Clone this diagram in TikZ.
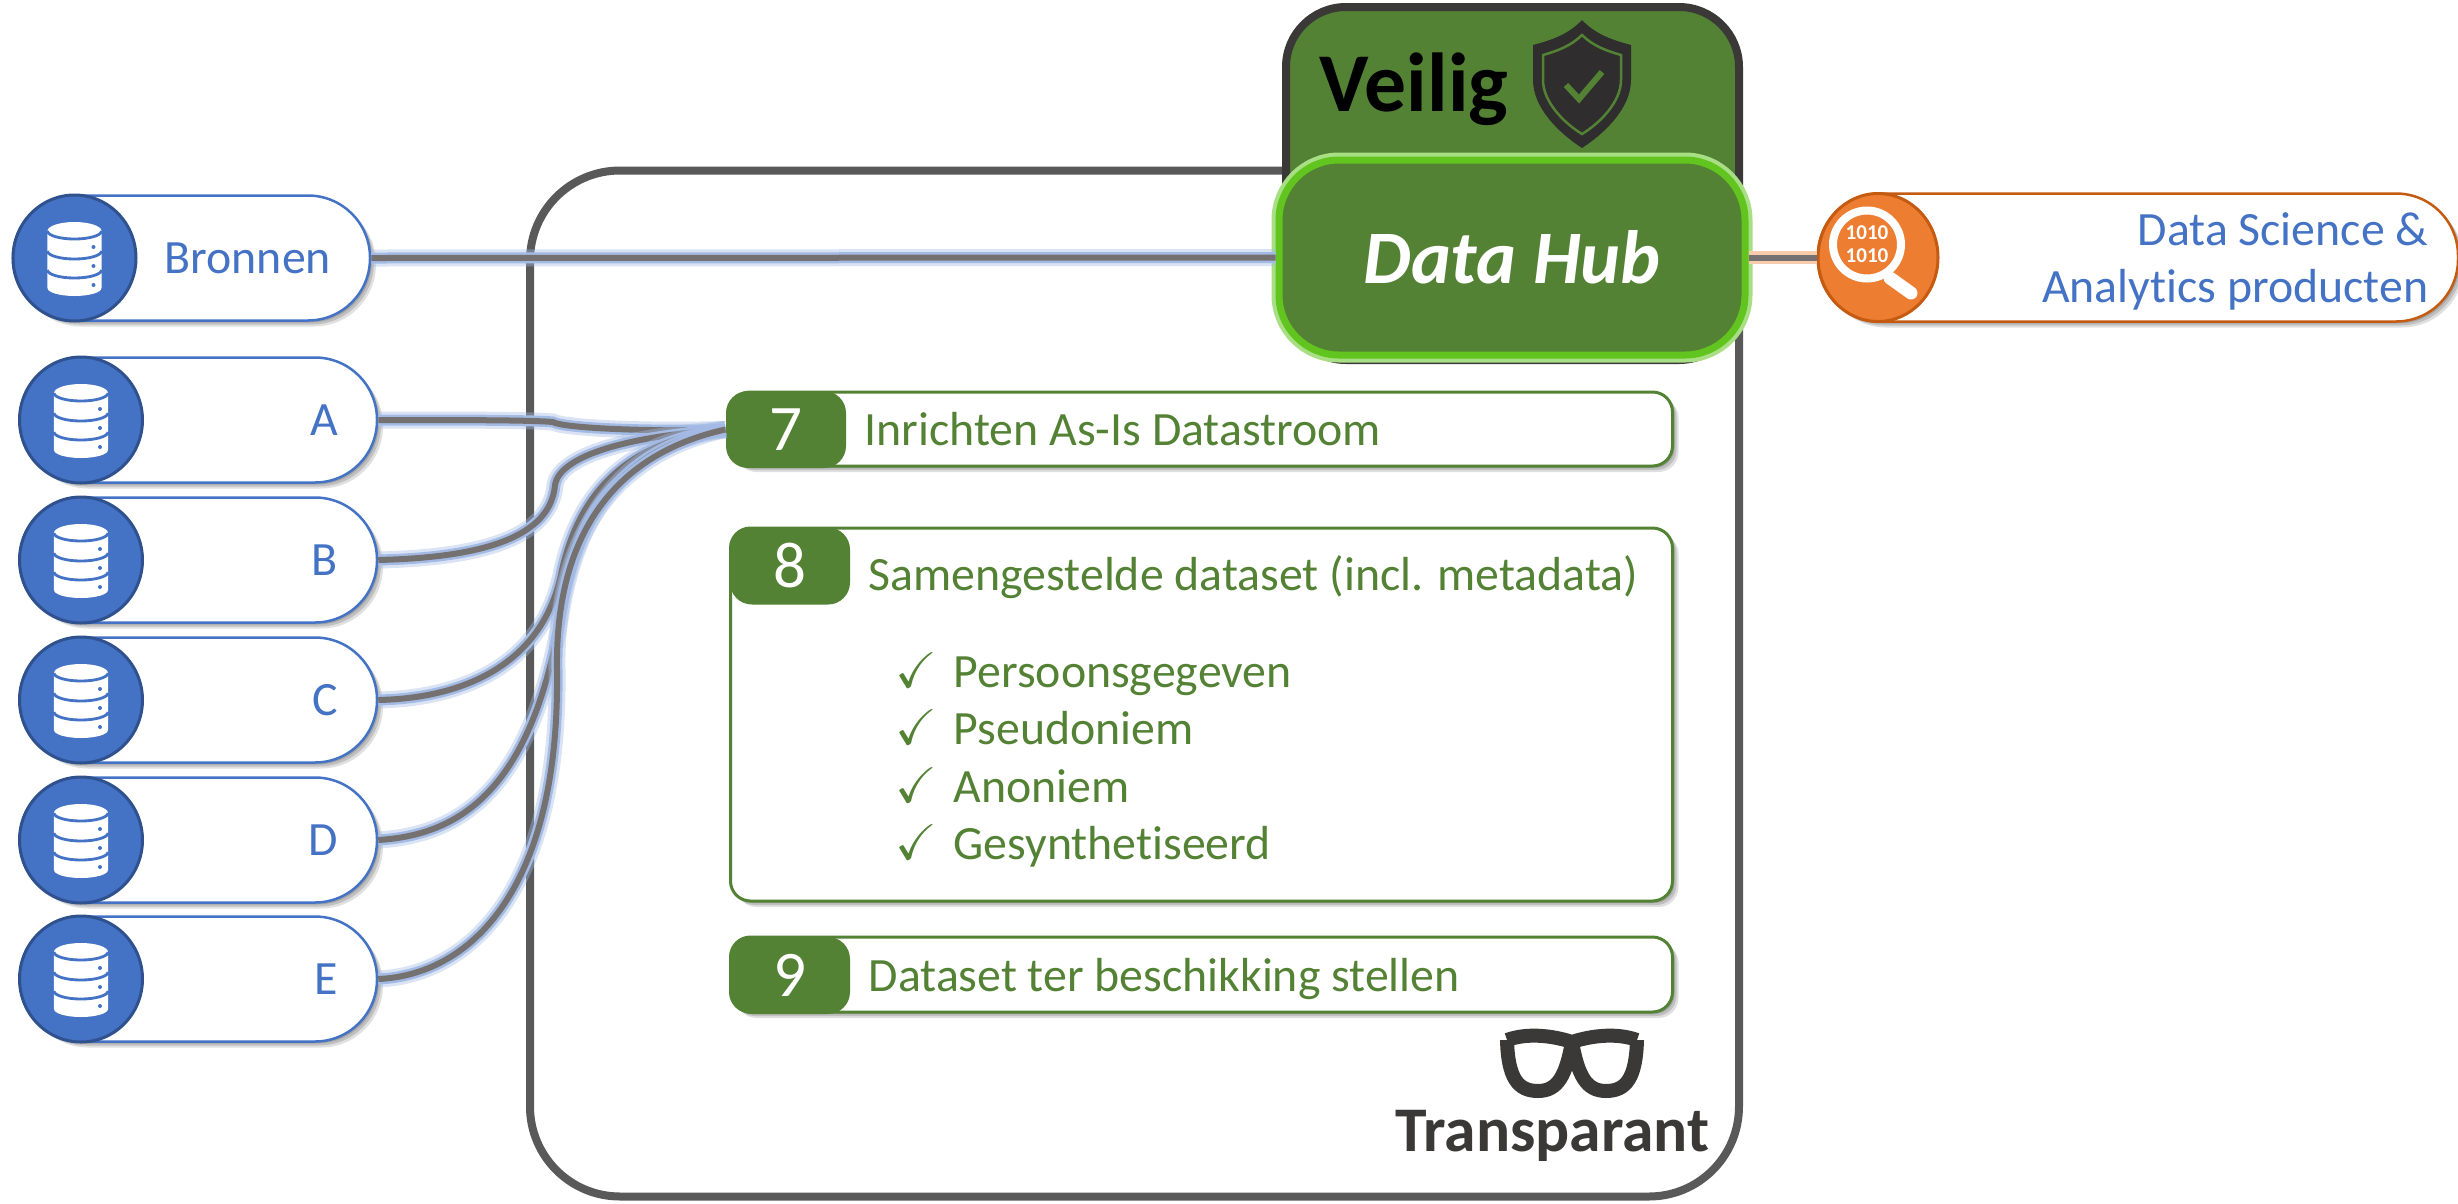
\documentclass[tikz,border=0pt]{standalone}
\usepackage{fontspec}
\usepackage{amssymb}
\setmainfont[Ligatures=CommonOff]{Carlito}
\usetikzlibrary{shapes.geometric}
\usetikzlibrary{shadows}
\definecolor{hubgreen}{HTML}{548235}
\definecolor{hubglow}{HTML}{62C41F}
\definecolor{srcblue}{HTML}{4472C4}
\definecolor{srcdark}{HTML}{2F528F}
\definecolor{srcglow}{HTML}{A3BBE4}
\definecolor{prodorange}{HTML}{ED7D31}
\definecolor{proddark}{HTML}{C55A11}
\definecolor{prodglow}{HTML}{F8CBAD}
\definecolor{tracegray}{HTML}{767171}
\definecolor{framegray}{HTML}{595959}
\definecolor{inkgray}{HTML}{3B3838}
\newcommand{\listcheck}{\makebox[16.5pt][l]{\scalebox{1.05}{$\checkmark$}}}
\tikzset{
  softshadow/.style={
    drop shadow={shadow xshift=.02cm, shadow yshift=-.02cm, opacity=.14, fill=black},
    drop shadow={shadow xshift=.04cm, shadow yshift=-.04cm, opacity=.14, fill=black},
    drop shadow={shadow xshift=.06cm, shadow yshift=-.06cm, opacity=.12, fill=black}},
  bodyfont/.style={font=\fontsize{13.6}{16.2}\selectfont},
  pillbox/.style={draw=srcblue, fill=white, line width=.025cm, rounded corners=.62cm, bodyfont, text=srcblue, align=right, inner xsep=.39cm, inner ysep=0, minimum height=1.25cm},
  srcpill/.style={pillbox, text width=2.79cm, text height=.40cm, text depth=.09cm, softshadow},
  srcdisc/.style={ellipse, draw=srcdark, fill=srcblue, line width=.03cm, inner sep=0, minimum width=1.23cm, minimum height=1.26cm},
  stepbox/.style={draw=hubgreen, fill=white, line width=.03cm, rounded corners=.2cm, minimum width=9.42cm, softshadow},
  steptab/.style={fill=hubgreen, text=white, rounded corners=.22cm, minimum width=1.2cm, minimum height=.77cm, inner sep=0, font=\fontsize{18.5}{20}\selectfont},
  steptext/.style={bodyfont, text=hubgreen, anchor=base west, inner sep=0},
  hubbox/.style={fill=hubgreen, rounded corners=.6cm, inner sep=0},
  srclink/.style={draw=tracegray, line width=.06cm, preaction={draw=srcglow, line width=.17cm, opacity=.4}, preaction={draw=srcglow, line width=.11cm}},
  prodlink/.style={draw=tracegray, line width=.06cm, preaction={draw=prodglow, line width=.13cm}},
  dbicon/.pic={
    \fill[white] (-.27,.27) -- (-.27,-.30) arc[start angle=180, end angle=360, x radius=.27, y radius=.08] -- (.27,.27) arc[start angle=0, end angle=180, x radius=.27, y radius=.09] -- cycle;
    \draw[srcblue, line width=.028cm] (-.27,.27) arc[start angle=180, end angle=360, x radius=.27, y radius=.08];
    \draw[srcblue, line width=.028cm] (-.27,.07) arc[start angle=180, end angle=360, x radius=.27, y radius=.08];
    \draw[srcblue, line width=.028cm] (-.27,-.12) arc[start angle=180, end angle=360, x radius=.27, y radius=.08];
    \fill[srcblue] (.19,.11) circle (.02);
    \fill[srcblue] (.19,-.08) circle (.02);
    \fill[srcblue] (.19,-.27) circle (.02);
  }
}
\begin{document}
\begin{tikzpicture}
  \useasboundingbox (0,0) rectangle (24.58,-12.03);

  \node[draw=framegray, fill=white, line width=.08cm, rounded corners=.9cm, minimum width=12.09cm, minimum height=10.26cm] (frame) at (11.345,-6.835) {};

  \node[hubbox, draw=inkgray, line width=.08cm, minimum width=4.53cm, minimum height=3.53cm] (veilig) at (15.125,-1.835) {};
  \node[font=\fontsize{23.8}{26}\selectfont\bfseries, text=black, anchor=base west, inner sep=0] (veiligtext) at (13.19,-1.11) {Veilig};
  \fill[inkgray!80!black] (15.82,-.20) .. controls (15.95,-.34) and (16.12,-.40) .. (16.31,-.45) -- (16.31,-.80) .. controls (16.31,-1.08) and (16.05,-1.33) .. (15.82,-1.48) .. controls (15.59,-1.33) and (15.33,-1.08) .. (15.33,-.80) -- (15.33,-.45) .. controls (15.52,-.40) and (15.69,-.34) .. (15.82,-.20) -- cycle;
  \draw[hubgreen, line width=.025cm] (15.82,-.35) .. controls (15.93,-.46) and (16.07,-.51) .. (16.21,-.55) -- (16.21,-.80) .. controls (16.21,-1.02) and (16.00,-1.23) .. (15.82,-1.34) .. controls (15.64,-1.23) and (15.43,-1.02) .. (15.43,-.80) -- (15.43,-.55) .. controls (15.57,-.51) and (15.71,-.46) .. (15.82,-.35) -- cycle;
  \draw[hubgreen, line width=.06cm] (15.66,-.85) -- (15.79,-.99) -- (16.02,-.72);

  \node[hubbox, draw=hubglow, line width=.07cm, minimum width=4.66cm, minimum height=1.95cm, preaction={draw=hubglow!55, line width=.15cm}, text=white, font=\fontsize{21.5}{24}\selectfont\bfseries\itshape] (hub) at (15.12,-2.575) {Data Hub};

  \node[srcpill, minimum width=3.57cm, drop shadow={opacity=0}] (bronnen) at (1.915,-2.58) {Bronnen};
  \node[srcpill] (a) at (1.985,-4.20) {A};
  \node[srcpill] (b) at (1.985,-5.60) {B};
  \node[srcpill] (c) at (1.985,-7.00) {C};
  \node[srcpill] (d) at (1.985,-8.40) {D};
  \node[srcpill] (e) at (1.985,-9.79) {E};
  \node[srcdisc] (bronnendisc) at (.745,-2.58) {};
  \node[srcdisc] (adisc) at (.81,-4.20) {};
  \node[srcdisc] (bdisc) at (.81,-5.60) {};
  \node[srcdisc] (cdisc) at (.81,-7.00) {};
  \node[srcdisc] (ddisc) at (.81,-8.40) {};
  \node[srcdisc] (edisc) at (.81,-9.79) {};
  \pic at (.745,-2.58) {dbicon};
  \pic at (.81,-4.20) {dbicon};
  \pic at (.81,-5.60) {dbicon};
  \pic at (.81,-7.00) {dbicon};
  \pic at (.81,-8.40) {dbicon};
  \pic at (.81,-9.79) {dbicon};

  \node[pillbox, draw=proddark, minimum height=1.28cm, minimum width=6.40cm, softshadow] (prod) at (21.38,-2.575) {};
  \node[bodyfont, text=srcblue, align=right, anchor=east, inner sep=0] (prodtext) at (24.29,-2.61) {Data Science \&\\Analytics producten};
  \node[ellipse, draw=proddark, fill=prodorange, line width=.03cm, inner sep=0, minimum width=1.2cm, minimum height=1.28cm] (proddisc) at (18.78,-2.575) {};
  \draw[white, line width=.08cm] (18.67,-2.445) circle (.34);
  \draw[white, line width=.13cm, line cap=round] (18.90,-2.78) -- (19.11,-2.93);
  \node[text=white, font=\fontsize{6}{6.6}\selectfont\bfseries, inner sep=0, align=center] (prodbits) at (18.67,-2.445) {1010\\1010};

  \node[stepbox, minimum height=.74cm] (box7) at (12.015,-4.29) {};
  \node[steptab] (tab7) at (7.86,-4.295) {7};
  \node[steptext] (text7) at (8.64,-4.45) {Inrichten As-Is Datastroom};

  \node[stepbox, minimum height=3.73cm] (box8) at (12.015,-7.145) {};
  \node[steptab] (tab8) at (7.90,-5.66) {8};
  \node[steptext] (text8) at (8.68,-5.90) {Samengestelde dataset (incl. metadata)};
  \node[steptext] (item1) at (8.95,-6.87) {\listcheck Persoonsgegeven};
  \node[steptext] (item2) at (8.95,-7.44) {\listcheck Pseudoniem};
  \node[steptext] (item3) at (8.95,-8.02) {\listcheck Anoniem};
  \node[steptext] (item4) at (8.95,-8.59) {\listcheck Gesynthetiseerd};

  \node[stepbox, minimum height=.75cm] (box9) at (12.015,-9.745) {};
  \node[steptab] (tab9) at (7.90,-9.755) {9};
  \node[steptext] (text9) at (8.68,-9.91) {Dataset ter beschikking stellen};

  \draw[inkgray, line width=.14cm, line join=round] (15.07,-10.40) .. controls (15.26,-10.33) and (15.51,-10.35) .. (15.72,-10.42) .. controls (15.93,-10.35) and (16.18,-10.33) .. (16.37,-10.40);
  \draw[inkgray, line width=.14cm, line join=round] (15.07,-10.40) .. controls (15.08,-10.78) and (15.18,-10.91) .. (15.38,-10.91) .. controls (15.58,-10.91) and (15.66,-10.75) .. (15.72,-10.42);
  \draw[inkgray, line width=.14cm, line join=round] (15.72,-10.42) .. controls (15.78,-10.75) and (15.86,-10.91) .. (16.06,-10.91) .. controls (16.26,-10.91) and (16.36,-10.78) .. (16.37,-10.40);
  \node[font=\fontsize{18.1}{22}\selectfont\bfseries, text=inkgray, anchor=base east, inner sep=0] (transparant) at (17.10,-11.51) {Transparant};

  \draw[srclink] (bronnen.east) -- (hub.west);
  \draw[prodlink] (hub.east) -- (proddisc.west);
  \draw[srclink] (a.east) .. controls (4.60,-4.20) and (5.30,-4.20) .. (5.53,-4.22) .. controls (5.60,-4.27) and (6.30,-4.32) .. (tab7.west);
  \draw[srclink] (b.east) .. controls (4.60,-5.58) and (5.50,-5.45) .. (5.55,-4.85) .. controls (5.60,-4.55) and (6.30,-4.36) .. (tab7.west);
  \draw[srclink] (c.east) .. controls (4.70,-6.98) and (5.45,-6.60) .. (5.62,-5.70) .. controls (5.80,-4.90) and (6.30,-4.40) .. (tab7.west);
  \draw[srclink] (d.east) .. controls (4.60,-8.35) and (5.30,-7.90) .. (5.60,-6.20) .. controls (5.75,-5.20) and (6.20,-4.45) .. (tab7.west);
  \draw[srclink] (e.east) .. controls (4.70,-9.75) and (5.60,-8.90) .. (5.57,-6.70) .. controls (5.55,-5.40) and (6.10,-4.55) .. (tab7.west);
\end{tikzpicture}
\end{document}
